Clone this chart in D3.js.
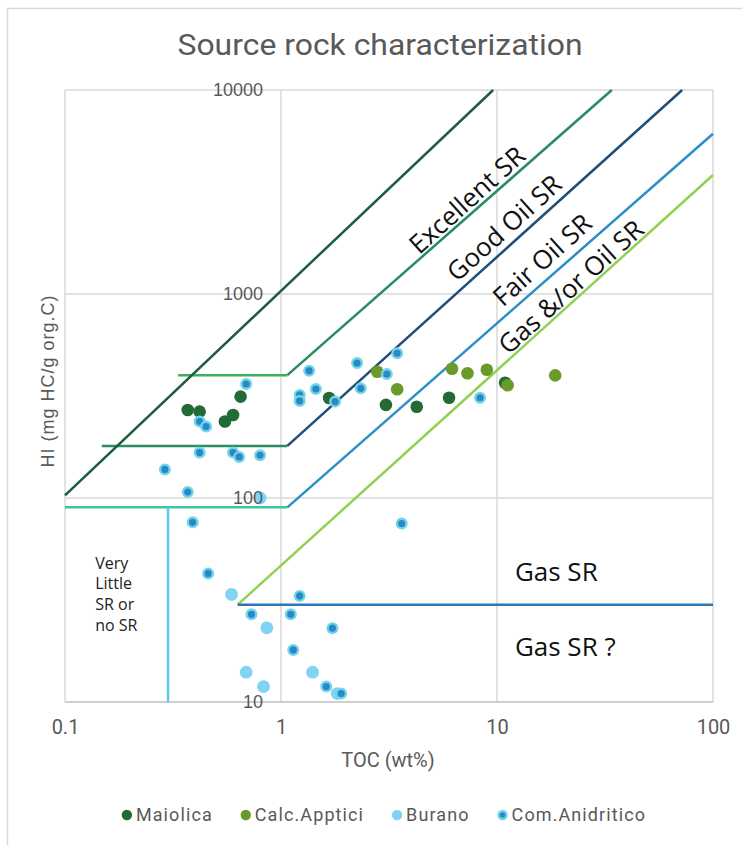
<!DOCTYPE html>
<html>
<head>
<meta charset="utf-8">
<script src="https://cdn.jsdelivr.net/npm/d3@7"></script>
<style>
  html, body { margin: 0; padding: 0; background: #fff; }
  svg { display: block; }
</style>
</head>
<body>
<svg id="chart" width="742" height="845"></svg>
<script>
"use strict";

// Axis ticks.
const TOC_TICKS = [0.1, 1, 10, 100];
const HI_TICKS = [10, 100, 1000, 10000];

// Series: [TOC (wt%), HI].
const SERIES_NAMES = ["Maiolica", "Calc.Apptici", "Burano", "Com.Anidritico"];
const maiolica = [[0.37, 270], [0.42, 265], [0.55, 237], [0.60, 255], [0.65, 314],
  [1.67, 309], [3.06, 286], [4.25, 280], [6.0, 310], [10.9, 367]];
const calcApptici = [[2.79, 416], [3.45, 341], [6.19, 430], [7.30, 409], [8.97, 425],
  [11.2, 357], [18.6, 399]];
const burano = [[0.59, 33.7], [0.86, 23.1], [0.69, 14.0], [0.83, 11.9], [1.40, 14.0],
  [1.82, 11.0], [0.80, 100]];
const comAnidritico = [[0.69, 362], [0.42, 237], [0.45, 224], [0.42, 167], [0.60, 167],
  [0.64, 159], [0.80, 162], [0.29, 138], [0.37, 107], [0.39, 76],
  [1.22, 320], [1.22, 299], [1.35, 421], [1.45, 342], [1.78, 297], [2.25, 459],
  [2.34, 345], [3.09, 405], [3.45, 512], [8.35, 310], [3.62, 75],
  [0.46, 42.7], [0.73, 26.9], [1.11, 26.9], [1.22, 33.1], [1.14, 18.0], [1.73, 23.0],
  [1.62, 11.9], [1.90, 11.0]];

// Classification boundaries: [TOC, HI].
const excellentLine = [[0.1, 103], [9.6, 10000]];
const goodLine = [[1.07, 400], [34, 10000]];
const hi400Line = [[0.334, 400], [1.07, 400]];
const hi180Line = [[0.148, 180], [1.07, 180]];
const fairLine = [[1.07, 180], [72, 10000]];
const hi90Line = [[0.1, 90], [1.07, 90]];
const gasOilLine = [[1.07, 90], [100, 6100]];
const toc03Line = [[0.3, 90], [0.3, 10]];
const gasLine = [[0.63, 30], [100, 3830]];
const gasSRLine = [[0.63, 30], [100, 30]];

// Zone labels: [TOC, HI] anchor.
const DIAG_LABELS = ["Excellent SR", "Good Oil SR", "Fair Oil SR", "Gas &/or Oil SR"];
const DIAG_POS = [[7.27, 2890], [10.8, 2106], [16.2, 1468], [22.0, 1082]];
const FLAT_LABELS = ["Gas SR", "Gas SR ?"];
const FLAT_POS = [[12.1, 43.4], [12.1, 18.6]];
const NO_SR_LINES = ["Very", "Little", "SR or", "no SR"];
const NO_SR_POS = [0.138, 48];

const svg = d3.select("#chart");
const W = +svg.attr("width"), H = +svg.attr("height");
const plot = {left: 65, right: 713, top: 90, bottom: 702};

const x = d3.scaleLog().domain([0.1, 100]).range([plot.left, plot.right]);
const y = d3.scaleLog().domain([10, 10000]).range([plot.bottom, plot.top]);

// Chart frame.
svg.append("rect")
    .attr("x", 7.5).attr("y", 8.5)
    .attr("width", W + 20).attr("height", H + 20)
    .attr("fill", "#fff")
    .attr("stroke", "#d9d9d9")
    .attr("stroke-width", 1.5);

// Title.
svg.append("text")
    .attr("x", 380).attr("y", 55)
    .attr("text-anchor", "middle")
    .attr("font-family", "Roboto, sans-serif")
    .attr("font-size", 30)
    .attr("textLength", 405)
    .attr("lengthAdjust", "spacingAndGlyphs")
    .attr("fill", "#595959")
    .text("Source rock characterization");

// Gridlines.
const grid = svg.append("g").attr("stroke", "#d9d9d9").attr("stroke-width", 1.5);
grid.selectAll(".vg").data(TOC_TICKS).enter().append("line")
    .attr("x1", (d) => x(d)).attr("x2", (d) => x(d))
    .attr("y1", y(10000)).attr("y2", y(10));
grid.selectAll(".hg").data(HI_TICKS.slice(1)).enter().append("line")
    .attr("x1", x(0.1)).attr("x2", x(100))
    .attr("y1", (d) => y(d)).attr("y2", (d) => y(d));
svg.append("line")
    .attr("x1", x(0.1)).attr("x2", x(100))
    .attr("y1", y(10)).attr("y2", y(10))
    .attr("stroke", "#bfbfbf").attr("stroke-width", 1.5);

// Boundary lines.
const line = d3.line().x((d) => x(d[0])).y((d) => y(d[1]));
const boundaries = [
  [hi90Line, "#3fc4a0"],
  [toc03Line, "#5bc9ef"],
  [hi180Line, "#2b8c60"],
  [hi400Line, "#3fae58"],
  [excellentLine, "#1e5c40"],
  [goodLine, "#2a8a64"],
  [fairLine, "#1f4e79"],
  [gasOilLine, "#2b8fc6"],
  [gasLine, "#92d050"],
  [gasSRLine, "#2e75b6"],
];
svg.append("g").selectAll("path")
    .data(boundaries).enter().append("path")
    .attr("d", (d) => line(d[0]))
    .attr("fill", "none")
    .attr("stroke", (d) => d[1])
    .attr("stroke-width", 2.5);

// Zone labels.
svg.append("g").selectAll("text")
    .data(DIAG_LABELS).enter().append("text")
    .attr("transform", (d, i) => "translate(" + x(DIAG_POS[i][0]) + "," + y(DIAG_POS[i][1]) + ") rotate(-42)")
    .attr("text-anchor", "middle")
    .attr("dy", "0.35em")
    .attr("font-family", "'Open Sans', sans-serif")
    .attr("font-size", 26)
    .attr("fill", "#111")
    .text((d) => d);

svg.append("g").selectAll("text")
    .data(FLAT_LABELS).enter().append("text")
    .attr("x", (d, i) => x(FLAT_POS[i][0]))
    .attr("y", (d, i) => y(FLAT_POS[i][1]))
    .attr("dy", "0.35em")
    .attr("font-family", "'Open Sans', sans-serif")
    .attr("font-size", 26)
    .attr("fill", "#111")
    .text((d) => d);

svg.append("text")
    .attr("x", x(NO_SR_POS[0]))
    .attr("y", y(NO_SR_POS[1]))
    .attr("font-family", "'Open Sans', sans-serif")
    .attr("font-size", 16)
    .attr("fill", "#222")
    .selectAll("tspan")
    .data(NO_SR_LINES).enter().append("tspan")
    .attr("x", x(NO_SR_POS[0]))
    .attr("dy", (d, i) => (i === 0 ? "0.35em" : "1.3em"))
    .text((d) => d);

// Points.
const seriesData = [maiolica, calcApptici, burano, comAnidritico];
const fills = ["#226b36", "#6a9a29", "#80d3f4", "#2b87c8"];
const strokes = ["none", "none", "none", "#70d6e6"];
const radii = [6.3, 6.3, 6.4, 4.8];
const strokeW = [0, 0, 0, 2.4];

seriesData.forEach((pts, s) => {
  svg.append("g").attr("class", "series-" + s)
      .selectAll("circle")
      .data(pts).enter().append("circle")
      .attr("cx", (d) => x(d[0]))
      .attr("cy", (d) => y(d[1]))
      .attr("r", radii[s])
      .attr("fill", fills[s])
      .attr("stroke", strokes[s])
      .attr("stroke-width", strokeW[s]);
});

// Axes.
const yAxis = svg.append("g")
    .attr("transform", "translate(" + x(1) + ",0)")
    .call(d3.axisLeft(y).tickValues(HI_TICKS).tickFormat(d3.format("d")).tickSize(0).tickPadding(18));
yAxis.select(".domain").remove();
yAxis.selectAll("text")
    .attr("font-family", "'Liberation Sans', Arial, sans-serif")
    .attr("font-size", 18)
    .attr("fill", "#595959");

const xAxis = svg.append("g")
    .attr("transform", "translate(0," + plot.bottom + ")")
    .call(d3.axisBottom(x).tickValues(TOC_TICKS).tickFormat((d) => String(d)).tickSize(0).tickPadding(18));
xAxis.select(".domain").remove();
xAxis.selectAll("text")
    .attr("font-family", "Roboto, sans-serif")
    .attr("font-size", 20)
    .attr("fill", "#595959");

// Axis titles.
svg.append("text")
    .attr("x", 388).attr("y", 767)
    .attr("text-anchor", "middle")
    .attr("font-family", "Roboto, sans-serif")
    .attr("font-size", 20)
    .attr("fill", "#595959")
    .text("TOC (wt%)");

svg.append("text")
    .attr("transform", "translate(48,381) rotate(-90)")
    .attr("text-anchor", "middle")
    .attr("dy", "0.35em")
    .attr("font-family", "'Liberation Sans', Arial, sans-serif")
    .attr("font-size", 18)
    .attr("letter-spacing", 1)
    .attr("fill", "#595959")
    .text("HI (mg HC/g org.C)");

// Legend.
const legend = svg.append("g").attr("transform", "translate(0,815)");
const items = legend.selectAll("g")
    .data(SERIES_NAMES).enter().append("g");
items.append("circle")
    .attr("r", (d, i) => (i === 3 ? 4 : 5.2))
    .attr("fill", (d, i) => fills[i])
    .attr("stroke", (d, i) => strokes[i])
    .attr("stroke-width", (d, i) => strokeW[i]);
items.append("text")
    .attr("x", 9)
    .attr("dy", "0.35em")
    .attr("font-family", "Roboto, sans-serif")
    .attr("font-size", 18)
    .attr("letter-spacing", 1.1)
    .attr("fill", "#595959")
    .text((d) => d);

const widths = [];
items.selectAll("text").each(function () { widths.push(this.getComputedTextLength()); });
const gap = 28;
const total = d3.sum(widths, (w) => w + 9 + 5) + gap * (widths.length - 1);
let cursor = 384 - total / 2 + 5;
items.attr("transform", (d, i) => {
  const t = "translate(" + cursor + ",0)";
  cursor += 5 + 9 + widths[i] + gap;
  return t;
});
</script>
</body>
</html>
